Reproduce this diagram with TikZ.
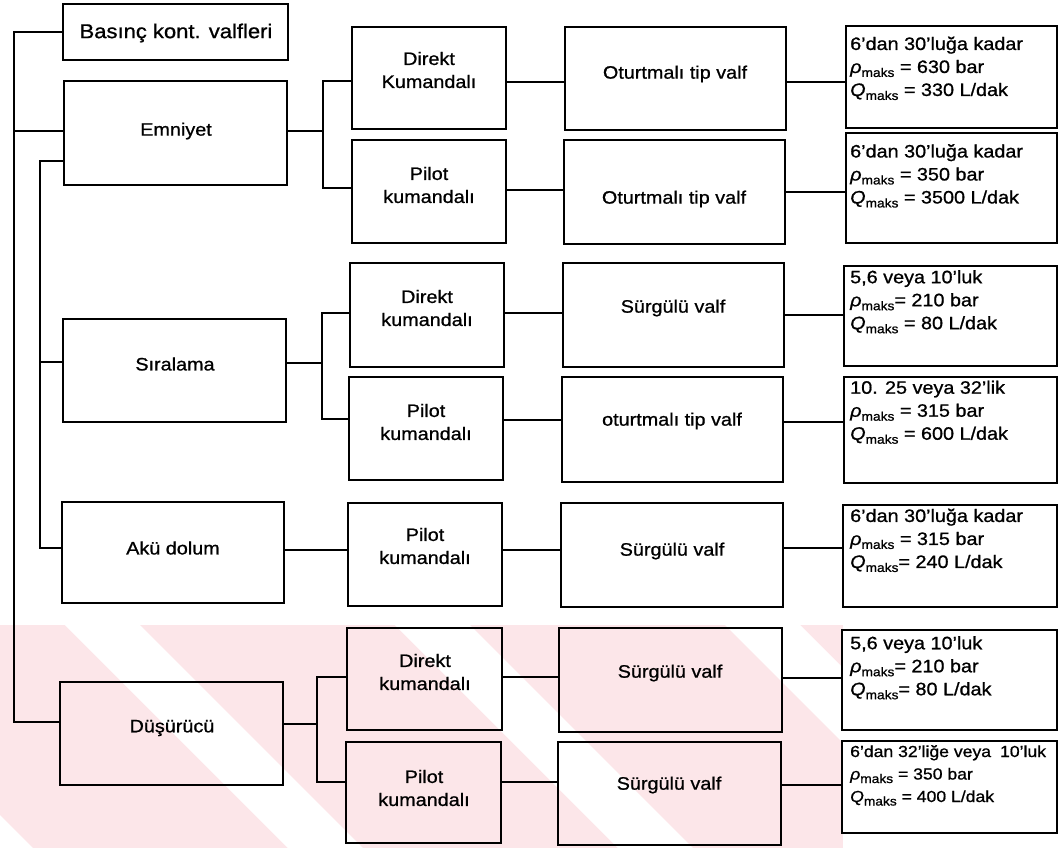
\documentclass[tikz,border=0pt]{standalone}
\usepackage{fontspec}
\setmainfont[FakeStretch=1.1,FakeBold=0.9]{Liberation Sans}
\usetikzlibrary{fit}
\definecolor{wm}{RGB}{252,230,233}
\tikzset{
  box/.style={draw, line width=1.8pt, inner sep=0pt},
  conn/.style={draw, line width=1.5pt},
  lbl/.style={font=\fontsize{18}{23}\selectfont, align=center, inner sep=0pt},
  big/.style={font=\fontsize{20}{24}\selectfont, inner sep=0pt},
  spec/.style={font=\fontsize{18}{23}\selectfont, align=left, anchor=north west, inner sep=0pt},
}
\newcommand\mk{\raisebox{-0.22em}{\fontsize{12.5}{12.5}\selectfont maks}}
\newcommand\rh{\textit{ρ}}
\newcommand\qq{\textit{Q}}
\begin{document}
\begin{tikzpicture}[x=1pt,y=-1pt]
\useasboundingbox (0,0) rectangle (1059,848);
% watermark
\begin{scope}
  \clip (0,625) rectangle (843,848);
  \fill[wm] (0,625) rectangle (843,848);
  \foreach \a in {-265,65,395,725}
    \fill[white] (\a,625) -- ++(75,0) -- ++(223,223) -- ++(-75,0) -- cycle;
\end{scope}
% left column
\node[box, line width=2.6pt, fit={(63,4) (288,60)}] (basinc) {};
\node[box, fit={(64,81) (287,185)}] (emn) {};
\node[box, fit={(63,319) (286,422)}] (sir) {};
\node[box, fit={(62,502) (284,603)}] (aku) {};
\node[box, fit={(60,682) (283,785)}] (dus) {};
% middle column
\node[box, fit={(352,27) (506,129)}] (d1) {};
\node[box, fit={(352,140) (506,243)}] (p1) {};
\node[box, fit={(350,263) (504,367)}] (d2) {};
\node[box, fit={(349,377) (503,480)}] (p2) {};
\node[box, fit={(348,503) (502,606)}] (p3) {};
\node[box, fit={(347,628) (502,730)}] (d4) {};
\node[box, fit={(346,742) (501,843)}] (p4) {};
% valve column
\node[box, fit={(565,27) (786,130)}] (v1a) {};
\node[box, fit={(564,140) (785,244)}] (v1b) {};
\node[box, fit={(563,263) (784,367)}] (v2a) {};
\node[box, fit={(562,377) (783,482)}] (v2b) {};
\node[box, fit={(561,503) (783,607)}] (v3) {};
\node[box, fit={(559,628) (782,732)}] (v4a) {};
\node[box, fit={(558,742) (781,845)}] (v4b) {};
% spec column
\node[box, fill=white, fit={(846,26) (1057,128)}] (s1a) {};
\node[box, fill=white, fit={(846,133) (1057,243)}] (s1b) {};
\node[box, fill=white, fit={(844,266) (1057,366)}] (s2a) {};
\node[box, fill=white, fit={(844,377) (1057,483)}] (s2b) {};
\node[box, fill=white, fit={(843,505) (1057,607)}] (s3) {};
\node[box, fill=white, fit={(842,630) (1057,730)}] (s4a) {};
\node[box, fill=white, fit={(842,741) (1057,833)}] (s4b) {};
% junction coordinates
\coordinate (tA) at (14,722);
\coordinate (tB) at (40,548);
\coordinate (j1) at (323,131);
\coordinate (j2) at (322,363);
\coordinate (j4) at (317,724);
% trunks
\draw[conn] (basinc.west) -| (tA) -- (dus.west |- tA);
\draw[conn] (emn.west |- 0,131) -- (tA |- 0,131);
\draw[conn] (emn.west |- 0,161) -| (tB) -- (aku.west |- tB);
\draw[conn] (sir.west |- 0,362) -- (tB |- 0,362);
% row 1
\draw[conn] (emn.east |- j1) -- (j1);
\draw[conn] (d1.west |- 0,81) -| (j1) |- (p1.west |- 0,188);
\draw[conn] (d1.east |- 0,82) -- (v1a.west |- 0,82);
\draw[conn] (v1a.east |- 0,82) -- (s1a.west |- 0,82);
\draw[conn] (p1.east |- 0,190) -- (v1b.west |- 0,190);
\draw[conn] (v1b.east |- 0,192) -- (s1b.west |- 0,192);
% row 2
\draw[conn] (sir.east |- j2) -- (j2);
\draw[conn] (d2.west |- 0,313) -| (j2) |- (p2.west |- 0,419);
\draw[conn] (d2.east |- 0,313) -- (v2a.west |- 0,313);
\draw[conn] (v2a.east |- 0,315) -- (s2a.west |- 0,315);
\draw[conn] (p2.east |- 0,420) -- (v2b.west |- 0,420);
\draw[conn] (v2b.east |- 0,422) -- (s2b.west |- 0,422);
% row 3
\draw[conn] (aku.east |- 0,550) -- (p3.west |- 0,550);
\draw[conn] (p3.east |- 0,550) -- (v3.west |- 0,550);
\draw[conn] (v3.east |- 0,548) -- (s3.west |- 0,548);
% row 4
\draw[conn] (dus.east |- j4) -- (j4);
\draw[conn] (d4.west |- 0,677) -| (j4) |- (p4.west |- 0,782);
\draw[conn] (d4.east |- 0,677) -- (v4a.west |- 0,677);
\draw[conn] (v4a.east |- 0,678) -- (s4a.west |- 0,678);
\draw[conn] (p4.east |- 0,782) -- (v4b.west |- 0,782);
\draw[conn] (v4b.east |- 0,785) -- (s4b.west |- 0,785);
% labels left
\node[big] (lbasinc) at (176,33) {Basınç kont. valfleri};
\node[lbl] (lemn) at (176,131) {Emniyet};
\node[lbl] (lsir) at (175,364) {Sıralama};
\node[lbl] (laku) at (173,548) {Akü dolum};
\node[lbl] (ldus) at (172,728) {Düşürücü};
% labels middle
\node[lbl] (ld1) at (429,70) {Direkt\\Kumandalı};
\node[lbl] (lp1) at (429,185) {Pilot\\kumandalı};
\node[lbl] (ld2) at (427,308) {Direkt\\kumandalı};
\node[lbl] (lp2) at (426,422) {Pilot\\kumandalı};
\node[lbl] (lp3) at (425,546) {Pilot\\kumandalı};
\node[lbl] (ld4) at (425,672) {Direkt\\kumandalı};
\node[lbl] (lp4) at (424,788) {Pilot\\kumandalı};
% labels valves
\node[lbl] (lv1a) at (675,74) {Oturtmalı tip valf};
\node[lbl] (lv1b) at (674,199) {Oturtmalı tip valf};
\node[lbl] (lv2a) at (673,308) {Sürgülü valf};
\node[lbl] (lv2b) at (672,421) {oturtmalı tip valf};
\node[lbl] (lv3) at (672,551) {Sürgülü valf};
\node[lbl] (lv4a) at (670,673) {Sürgülü valf};
\node[lbl] (lv4b) at (669,785) {Sürgülü valf};
% spec texts
\node[spec] (ts1a) at (850,36.5) {6'dan 30'luğa kadar\\\rh\mk{} = 630 bar\\\qq\mk{} = 330 L/dak};
\node[spec] (ts1b) at (850,144) {6'dan 30'luğa kadar\\\rh\mk{} = 350 bar\\\qq\mk{} = 3500 L/dak};
\node[spec] (ts2a) at (850,270) {5,6 veya 10'luk\\\rh\mk= 210 bar\\\qq\mk{} = 80 L/dak};
\node[spec] (ts2b) at (850,380.5) {10. 25 veya 32'lik\\\rh\mk{} = 315 bar\\\qq\mk{} = 600 L/dak};
\node[spec] (ts3) at (850,508.5) {6'dan 30'luğa kadar\\\rh\mk{} = 315 bar\\\qq\mk= 240 L/dak};
\node[spec] (ts4a) at (850,636) {5,6 veya 10'luk\\\rh\mk= 210 bar\\\qq\mk= 80 L/dak};
\node[spec, font=\fontsize{16}{22.5}\selectfont] (ts4b) at (850,745) {6'dan 32'liğe veya\hspace{9pt}10'luk\\\rh\mk{} = 350 bar\\\qq\mk{} = 400 L/dak};
\end{tikzpicture}
\end{document}
